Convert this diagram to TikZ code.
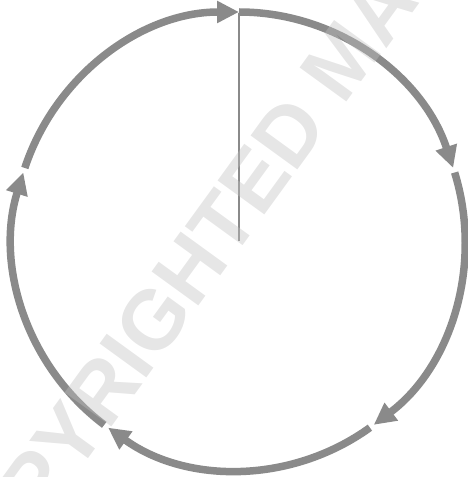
\documentclass[tikz,border=0pt]{standalone}
\usepackage{fontspec}
\setmainfont{Liberation Sans}
\usetikzlibrary{arrows.meta,calc}
\definecolor{cyc}{HTML}{8A8A8A}
\definecolor{wm}{HTML}{C0C0C0}
\tikzset{
  cycarc/.style={draw=cyc, line width=7.5pt, -{Triangle[length=22pt,width=21pt]}},
  radline/.style={draw=cyc, line width=2.5pt},
  wmark/.style={text=wm, text opacity=0.4, inner sep=0pt, anchor=base west, rotate=54,
    font=\bfseries\fontsize{84}{84}\selectfont}
}
\begin{document}
\begin{tikzpicture}[x=1pt,y=1pt]
\useasboundingbox (0,0) rectangle (468,477);
\coordinate (c) at (239,236);
\coordinate (top) at ($(c)+(0,229)$);
\def\rx{226pt}\def\ry{229pt}
\draw[cycarc] ([shift={(90:226 and 229)}]c) arc[start angle=90, end angle=18.6, x radius=\rx, y radius=\ry];
\draw[cycarc] ([shift={(17.4:226 and 229)}]c) arc[start angle=17.4, end angle=-53.4, x radius=\rx, y radius=\ry];
\draw[cycarc] ([shift={(-54.6:226 and 229)}]c) arc[start angle=-54.6, end angle=-125.4, x radius=\rx, y radius=\ry];
\draw[cycarc] ([shift={(-126.6:226 and 229)}]c) arc[start angle=-126.6, end angle=-197.4, x radius=\rx, y radius=\ry];
\draw[cycarc] ([shift={(-198.6:226 and 229)}]c) arc[start angle=-198.6, end angle=-270, x radius=\rx, y radius=\ry];
\draw[radline] (c) -- ([yshift=-1pt]top);
\begin{scope}
\clip (0,0) rectangle (468,477);
\node[wmark] (wm) at (-32,-147) {COPYRIGHTED MATERIAL};
\end{scope}
\end{tikzpicture}
\end{document}
